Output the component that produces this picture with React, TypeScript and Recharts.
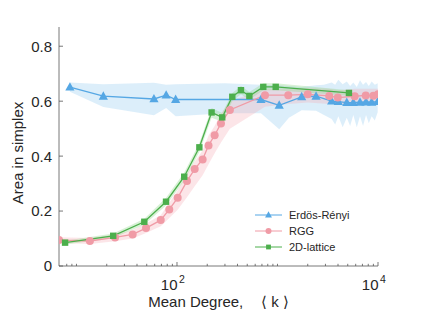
import React from 'react';
import { ComposedChart, Line, Area, XAxis, YAxis, Legend } from 'recharts';

const FONT = '"Liberation Sans", Arial, Helvetica, sans-serif';

// ---- Erdős-Rényi ----
const erK = [8.6, 18.5, 59, 78, 97, 685, 1040, 1740, 2420, 3460, 4030, 4890, 5680, 6620, 7600, 8650, 9930];
const erVal = [0.651, 0.618, 0.608, 0.622, 0.606, 0.606, 0.585, 0.616, 0.618, 0.6, 0.598, 0.595, 0.595, 0.596, 0.597, 0.596, 0.598];
const erBandK = [8.6, 18.5, 59, 78, 97, 300, 685, 1040, 1300, 1740, 2420, 2900, 3460, 3750, 4030, 4450, 4890, 5280, 5680, 6150, 6620, 7100, 7600, 8100, 8650, 9300, 9930];
const erHi = [0.668, 0.662, 0.667, 0.66, 0.662, 0.665, 0.66, 0.658, 0.655, 0.652, 0.658, 0.66, 0.668, 0.66, 0.678, 0.662, 0.672, 0.655, 0.668, 0.652, 0.676, 0.66, 0.67, 0.655, 0.672, 0.66, 0.665];
const erLo = [0.634, 0.579, 0.549, 0.575, 0.545, 0.556, 0.556, 0.498, 0.54, 0.567, 0.565, 0.55, 0.535, 0.515, 0.545, 0.505, 0.54, 0.51, 0.55, 0.505, 0.545, 0.51, 0.55, 0.52, 0.545, 0.53, 0.56];

// ---- RGG ----
const rggK = [6.7, 13.6, 24.2, 36.2, 49.2, 68.9, 83.8, 101.6, 125.7, 150, 180, 206, 237, 274, 336, 751, 1280, 2000, 3270, 3980, 5860, 7550, 9000, 10000];
const rggVal = [0.0945, 0.091, 0.104, 0.115, 0.138, 0.167, 0.206, 0.248, 0.309, 0.353, 0.388, 0.439, 0.476, 0.519, 0.568, 0.622, 0.622, 0.625, 0.619, 0.613, 0.618, 0.621, 0.62, 0.625];
const rggLo = [0.084, 0.08, 0.09, 0.1, 0.12, 0.145, 0.175, 0.205, 0.25, 0.29, 0.33, 0.37, 0.41, 0.45, 0.5, 0.58, 0.59, 0.595, 0.59, 0.59, 0.59, 0.59, 0.59, 0.59];
const rggHi = [0.105, 0.102, 0.115, 0.13, 0.155, 0.185, 0.23, 0.275, 0.335, 0.38, 0.42, 0.475, 0.51, 0.555, 0.6, 0.645, 0.645, 0.648, 0.645, 0.64, 0.645, 0.645, 0.645, 0.645];

// ---- 2D lattice ----
const latK = [7.7, 23.2, 47.3, 77.8, 118, 167, 221, 282, 355, 433, 525, 722, 960, 5140];
const latVal = [0.085, 0.11, 0.161, 0.234, 0.325, 0.432, 0.559, 0.541, 0.616, 0.64, 0.619, 0.652, 0.652, 0.63];
const latLo = [0.078, 0.102, 0.15, 0.22, 0.31, 0.415, 0.54, 0.525, 0.6, 0.625, 0.605, 0.64, 0.64, 0.62];
const latHi = [0.092, 0.118, 0.172, 0.248, 0.34, 0.448, 0.575, 0.557, 0.63, 0.655, 0.633, 0.665, 0.665, 0.64];

// ---- axes ----
const xTicks = [8, 9, 10, 20, 30, 40, 50, 60, 70, 80, 90, 100, 200, 300, 400, 500, 600, 700, 800, 900, 1000, 2000, 3000, 4000, 5000, 6000, 7000, 8000, 9000, 10000];
const xMajor = [100, 10000];
const xExponent: Record<number, string> = { 100: '2', 10000: '4' };
const yTicks = [0, 0.2, 0.4, 0.6, 0.8];
const yTickLabels = ['0', '0.2', '0.4', '0.6', '0.8'];

const seriesNames = ['Erdös-Rényi', 'RGG', '2D-lattice'];
const seriesColors = ['#55a7e4', '#f09ba6', '#4caf4c'];
const bandColors = ['#8cc6ef', '#f5aab4', '#8fd68a'];

const toLine = (ks: number[], vs: number[]) => ks.map((k, i) => ({ k, v: vs[i] }));
const toBand = (ks: number[], lo: number[], hi: number[]) => ks.map((k, i) => ({ k, range: [lo[i], hi[i]] }));

const erData = toLine(erK, erVal);
const rggData = toLine(rggK, rggVal);
const latData = toLine(latK, latVal);
const erBand = toBand(erBandK, erLo, erHi);
const rggBand = toBand(rggK, rggLo, rggHi);
const latBand = toBand(latK, latLo, latHi);

const AXIS = '#555';
const TXT = '#262626';

const Marker = ({ kind, cx, cy, color, s = 1 }: any) => {
  if (cx == null || cy == null) return null;
  if (kind === 0) {
    return (
      <polygon
        points={`${cx},${cy - 5 * s} ${cx - 4.6 * s},${cy + 3.4 * s} ${cx + 4.6 * s},${cy + 3.4 * s}`}
        fill={color}
      />
    );
  }
  if (kind === 1) return <circle cx={cx} cy={cy} r={4 * s} fill={color} />;
  return <rect x={cx - 3.2 * s} y={cy - 3.2 * s} width={6.4 * s} height={6.4 * s} fill={color} />;
};

const makeDot = (kind: number) => (p: any) => (
  <Marker key={`d-${kind}-${p.index}`} kind={kind} cx={p.cx} cy={p.cy} color={seriesColors[kind]} />
);

const XTick = (props: any) => {
  const { x, y, payload } = props;
  const v = payload.value;
  const axisY = y - 24;
  const major = xMajor.includes(v);
  const exp = xExponent[v];
  return (
    <g>
      <line x1={x} x2={x} y1={axisY} y2={axisY - (major ? 4 : 2.2)} stroke={AXIS} strokeWidth={0.8} />
      {exp && (
        <g fontFamily={FONT} fill={TXT}>
          <text x={x + 0.5} y={y} textAnchor="end" fontSize={15}>10</text>
          <text x={x + 2} y={y - 7} textAnchor="start" fontSize={10.5}>{exp}</text>
        </g>
      )}
    </g>
  );
};

const YTick = (props: any) => {
  const { x, y, payload, index } = props;
  const label = yTickLabels[yTicks.indexOf(payload.value)] ?? String(payload.value);
  return (
    <g>
      <line x1={x + 7} x2={x + 11} y1={y} y2={y} stroke={AXIS} strokeWidth={0.8} />
      <text x={x} y={y} dy="0.36em" textAnchor="end" fontSize={15} fontFamily={FONT} fill={TXT} key={index}>
        {label}
      </text>
    </g>
  );
};

const XLabel = (props: any) => {
  const vb = props.viewBox || {};
  const cx = vb.x + vb.width / 2;
  return (
    <text x={cx} y={vb.y + 41} textAnchor="middle" fontSize={15} fontFamily={FONT} fill={TXT}>
      <tspan>Mean Degree,</tspan>
      <tspan dx="18">⟨</tspan>
      <tspan dx="4">k</tspan>
      <tspan dx="4">⟩</tspan>
    </text>
  );
};

const YLabel = (props: any) => {
  const vb = props.viewBox || {};
  const cx = vb.x + 4;
  const cy = vb.y + vb.height / 2 + 6.5;
  return (
    <text
      x={cx}
      y={cy}
      transform={`rotate(-90 ${cx} ${cy})`}
      textAnchor="middle"
      fontSize={15}
      fontFamily={FONT}
      fill={TXT}
    >
      Area in simplex
    </text>
  );
};

const LegendContent = () => (
  <div style={{ fontFamily: FONT, fontSize: 11, color: TXT }}>
    {seriesNames.map((n, i) => (
      <div key={n} style={{ display: 'flex', alignItems: 'center', height: 16 }}>
        <svg width={28} height={16} style={{ display: 'block' }}>
          <line x1={0} x2={27} y1={8} y2={8} stroke={seriesColors[i]} strokeWidth={1} />
          <Marker kind={i} cx={13.5} cy={8} color={seriesColors[i]} s={0.75} />
        </svg>
        <span style={{ marginLeft: 6, lineHeight: '16px', whiteSpace: 'nowrap' }}>{n}</span>
      </div>
    ))}
  </div>
);

export default function App() {
  return (
    <ComposedChart width={416} height={310} margin={{ top: 19, right: 46, bottom: 0, left: 11 }}>
      <XAxis
        type="number"
        dataKey="k"
        scale="log"
        domain={[6.7, 10000]}
        allowDataOverflow
        ticks={xTicks}
        interval={0}
        tickSize={0}
        tickMargin={24}
        tick={XTick}
        tickLine={false}
        axisLine={{ stroke: AXIS, strokeWidth: 0.8 }}
        height={52}
        label={<XLabel />}
      />
      <YAxis
        type="number"
        domain={[0, 0.87]}
        allowDataOverflow
        ticks={yTicks}
        interval={0}
        tickSize={0}
        tickMargin={7}
        tick={YTick}
        tickLine={false}
        axisLine={{ stroke: AXIS, strokeWidth: 0.8 }}
        width={40}
        label={<YLabel />}
      />
      <Area data={erBand} dataKey="range" type="linear" stroke="none" fill={bandColors[0]} fillOpacity={0.3} isAnimationActive={false} legendType="none" dot={false} activeDot={false} />
      <Area data={rggBand} dataKey="range" type="linear" stroke="none" fill={bandColors[1]} fillOpacity={0.3} isAnimationActive={false} legendType="none" dot={false} activeDot={false} />
      <Area data={latBand} dataKey="range" type="linear" stroke="none" fill={bandColors[2]} fillOpacity={0.35} isAnimationActive={false} legendType="none" dot={false} activeDot={false} />
      <Line data={erData} dataKey="v" name={seriesNames[0]} type="linear" stroke={seriesColors[0]} strokeWidth={1.3} dot={makeDot(0)} activeDot={false} isAnimationActive={false} />
      <Line data={rggData} dataKey="v" name={seriesNames[1]} type="linear" stroke={seriesColors[1]} strokeWidth={1.3} dot={makeDot(1)} activeDot={false} isAnimationActive={false} />
      <Line data={latData} dataKey="v" name={seriesNames[2]} type="linear" stroke={seriesColors[2]} strokeWidth={1.3} dot={makeDot(2)} activeDot={false} isAnimationActive={false} />
      <Legend
        layout="vertical"
        align="center"
        verticalAlign="middle"
        wrapperStyle={{ left: 247, top: 199, width: 130 }}
        content={LegendContent}
      />
    </ComposedChart>
  );
}
